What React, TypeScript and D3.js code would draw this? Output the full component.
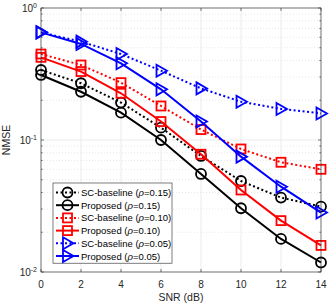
import React from 'react';
import * as d3 from 'd3';

const snr = [0, 2, 4, 6, 8, 10, 12, 14];
const scBase015 = [0.339, 0.269, 0.192, 0.124, 0.0757, 0.0489, 0.0366, 0.0313];
const prop015 = [0.311, 0.232, 0.161, 0.1, 0.0553, 0.0304, 0.0178, 0.0118];
const scBase010 = [0.448, 0.37, 0.272, 0.181, 0.12, 0.0855, 0.0678, 0.06];
const prop010 = [0.423, 0.33, 0.226, 0.138, 0.078, 0.0418, 0.0245, 0.0159];
const scBase005 = [0.654, 0.556, 0.448, 0.335, 0.246, 0.195, 0.172, 0.159];
const prop005 = [0.654, 0.534, 0.381, 0.242, 0.138, 0.0748, 0.0443, 0.0282];

const xTicks = [0, 2, 4, 6, 8, 10, 12, 14];
const yExps = [0, -1, -2];

type Series = { name: string; rho: string; values: number[]; color: string; dotted: boolean; marker: 'circle' | 'square' | 'triangle' };

const series: Series[] = [
  { name: 'SC-baseline', rho: '0.15', values: scBase015, color: '#000000', dotted: true, marker: 'circle' },
  { name: 'Proposed', rho: '0.15', values: prop015, color: '#000000', dotted: false, marker: 'circle' },
  { name: 'SC-baseline', rho: '0.10', values: scBase010, color: '#ff0000', dotted: true, marker: 'square' },
  { name: 'Proposed', rho: '0.10', values: prop010, color: '#ff0000', dotted: false, marker: 'square' },
  { name: 'SC-baseline', rho: '0.05', values: scBase005, color: '#0000ff', dotted: true, marker: 'triangle' },
  { name: 'Proposed', rho: '0.05', values: prop005, color: '#0000ff', dotted: false, marker: 'triangle' },
];

const margin = { top: 8, right: 14, bottom: 35, left: 41 };
const width = 335;
const height = 307;

function Marker({ type, x, y, color }: { type: string; x: number; y: number; color: string }) {
  const common = { fill: 'none', stroke: color, strokeWidth: 1.8 };
  if (type === 'circle') return <circle cx={x} cy={y} r={5} {...common} />;
  if (type === 'square') return <rect x={x - 4.5} y={y - 4.5} width={9} height={9} {...common} />;
  return <path d={`M${x - 4.5},${y - 6}L${x + 6},${y}L${x - 4.5},${y + 6}Z`} {...common} />;
}

export default function App() {
  const innerW = width - margin.left - margin.right;
  const innerH = height - margin.top - margin.bottom;
  const x = d3.scaleLinear().domain([0, 14]).range([margin.left, margin.left + innerW]);
  const y = d3.scaleLog().domain([0.01, 1]).range([margin.top + innerH, margin.top]);
  const line = d3.line<number>().x((_, i) => x(snr[i])).y(d => y(d));

  const minor: number[] = [];
  for (const base of [0.01, 0.1]) for (let k = 2; k <= 9; k++) minor.push(base * k);

  const legX = 53, legY = 183, legW = 119, rowH = 12.7;
  const font = 'Liberation Sans, Arial, Helvetica, sans-serif';

  return (
    <svg width={width} height={height} style={{ position: 'absolute', left: 0, top: 0, background: '#fff' }} fontFamily={font}>
      <rect x={0} y={0} width={width} height={height} fill="#fff" />
      {minor.map(v => (
        <line key={'m' + v} x1={margin.left} x2={margin.left + innerW} y1={y(v)} y2={y(v)} stroke="#d8d8d8" strokeWidth={0.6} strokeDasharray="1,2" />
      ))}
      {xTicks.map(t => (
        <line key={'gx' + t} x1={x(t)} x2={x(t)} y1={margin.top} y2={margin.top + innerH} stroke="#e3e3e3" strokeWidth={0.7} />
      ))}
      {yExps.map(e => (
        <line key={'gy' + e} x1={margin.left} x2={margin.left + innerW} y1={y(10 ** e)} y2={y(10 ** e)} stroke="#e3e3e3" strokeWidth={0.7} />
      ))}
      {series.map((s, si) => (
        <g key={si}>
          <path d={line(s.values) || ''} fill="none" stroke={s.color} strokeWidth={2} strokeDasharray={s.dotted ? '2,2.5' : undefined} />
          {s.values.map((v, i) => (
            <Marker key={i} type={s.marker} x={x(snr[i])} y={y(v)} color={s.color} />
          ))}
        </g>
      ))}
      <rect x={margin.left} y={margin.top} width={innerW} height={innerH} fill="none" stroke="#262626" strokeWidth={0.6} />
      {xTicks.map(t => (
        <g key={'tx' + t}>
          <line x1={x(t)} x2={x(t)} y1={margin.top + innerH} y2={margin.top + innerH - 3} stroke="#262626" strokeWidth={0.6} />
          <line x1={x(t)} x2={x(t)} y1={margin.top} y2={margin.top + 3} stroke="#262626" strokeWidth={0.6} />
          <text x={x(t)} y={margin.top + innerH + 16} textAnchor="middle" fontSize={10} fill="#262626">{t}</text>
        </g>
      ))}
      {minor.map(v => (
        <g key={'tm' + v}>
          <line x1={margin.left} x2={margin.left + 1.7} y1={y(v)} y2={y(v)} stroke="#262626" strokeWidth={0.6} />
          <line x1={margin.left + innerW} x2={margin.left + innerW - 1.7} y1={y(v)} y2={y(v)} stroke="#262626" strokeWidth={0.6} />
        </g>
      ))}
      {yExps.map(e => (
        <g key={'ty' + e}>
          <line x1={margin.left} x2={margin.left + 3} y1={y(10 ** e)} y2={y(10 ** e)} stroke="#262626" strokeWidth={0.6} />
          <line x1={margin.left + innerW} x2={margin.left + innerW - 3} y1={y(10 ** e)} y2={y(10 ** e)} stroke="#262626" strokeWidth={0.6} />
          <text x={margin.left - 4} y={y(10 ** e) + 4} textAnchor="end" fontSize={10} fill="#262626">
            10<tspan dy={-4} fontSize={7}>{e}</tspan>
          </text>
        </g>
      ))}
      <text x={x(7)} y={301} textAnchor="middle" fontSize={10.5} fill="#262626">SNR (dB)</text>
      <text transform={`translate(10,${y(0.1)}) rotate(-90)`} textAnchor="middle" fontSize={10.5} fill="#262626">NMSE</text>
      <rect x={legX} y={legY} width={legW} height={rowH * 6 + 4} fill="#fff" stroke="#262626" strokeWidth={0.6} />
      {series.map((s, i) => {
        const cy = legY + 9.5 + i * rowH;
        return (
          <g key={'l' + i}>
            <line x1={legX + 3} x2={legX + 26} y1={cy} y2={cy} stroke={s.color} strokeWidth={2} strokeDasharray={s.dotted ? '2,2.5' : undefined} />
            <Marker type={s.marker} x={legX + 14.5} y={cy} color={s.color} />
            <text x={legX + 28} y={cy + 3.5} fontSize={9.5} fill="#000">
              {s.name} (<tspan fontStyle="italic">ρ</tspan>={s.rho})
            </text>
          </g>
        );
      })}
    </svg>
  );
}
